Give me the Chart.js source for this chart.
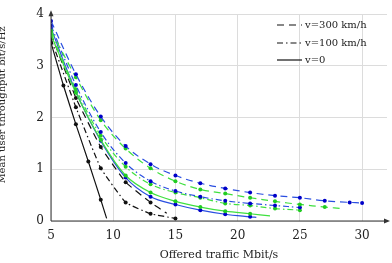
<!DOCTYPE html>
<html>
<head>
<meta charset="utf-8">
<script src="https://cdn.jsdelivr.net/npm/chart.js@4/dist/chart.umd.min.js"></script>
<style>
  body { margin: 0; background: #fff; }
  #wrap { width: 392px; height: 263px; position: relative; }
</style>
</head>
<body>
<div id="wrap"><canvas id="chart"></canvas></div>
<script>
// x ticks / labels
const xTicks = [5, 10, 15, 20, 25, 30];
const yTicks = [0, 1, 2, 3, 4];
const xTitle = 'Offered traffic Mbit/s';
const yTitle = 'Mean user throughput bit/s/Hz';

// black curves
const blackSolidX = [5, 6, 7, 8, 9, 9.47];
const blackSolidY = [3.45, 2.62, 1.87, 1.15, 0.41, 0.05];
const blackDotX = [5, 7, 9, 11, 13, 15];
const blackDotY = [3.52, 2.2, 1.02, 0.36, 0.14, 0.05];
const blackDashX = [5, 7, 9, 11, 13, 14.3];
const blackDashY = [3.62, 2.38, 1.43, 0.75, 0.36, 0.15];

// blue curves
const blueDashX = [5, 7, 9, 11, 13, 15, 17, 19, 21, 23, 25, 27, 29, 30];
const blueDashY = [3.87, 2.84, 2.02, 1.45, 1.10, 0.88, 0.73, 0.63, 0.55, 0.49, 0.45, 0.39, 0.36, 0.35];
const blueDotX = [5, 7, 9, 11, 13, 15, 17, 19, 21, 23, 25];
const blueDotY = [3.78, 2.63, 1.72, 1.12, 0.77, 0.58, 0.47, 0.39, 0.34, 0.30, 0.26];
const blueSolidX = [5, 7, 9, 11, 13, 15, 17, 19, 21, 21.5];
const blueSolidY = [3.73, 2.5, 1.55, 0.84, 0.47, 0.32, 0.21, 0.13, 0.08, 0.07];

// green curves
const greenDashX = [5, 7, 9, 11, 13, 15, 17, 19, 21, 23, 25, 27, 28.5];
const greenDashY = [3.68, 2.78, 1.95, 1.40, 1.02, 0.77, 0.61, 0.53, 0.45, 0.38, 0.32, 0.27, 0.24];
const greenDotX = [5, 7, 9, 11, 13, 15, 17, 19, 21, 23, 25];
const greenDotY = [3.63, 2.55, 1.65, 1.05, 0.71, 0.55, 0.45, 0.34, 0.30, 0.24, 0.21];
const greenSolidX = [5, 7, 9, 11, 13, 15, 17, 19, 21, 22.6];
const greenSolidY = [3.6, 2.48, 1.57, 0.88, 0.55, 0.38, 0.27, 0.19, 0.14, 0.10];

const legendLabels = ['v=300 km/h', 'v=100 km/h', 'v=0'];

const DASH = [7, 5];
const DASHDOT = [6, 3, 1.5, 3];
const BLUE = '#2a4ee0';
const GREEN = '#3fe03f';
const BLACK = '#111';

function pts(xs, ys) {
    return xs.map((x, i) => ({ x: x, y: ys[i] }));
}

function series(label, xs, ys, color, dash, markColor) {
    return {
        label: label,
        data: pts(xs, ys),
        borderColor: color,
        backgroundColor: markColor,
        borderDash: dash,
        borderWidth: 1.2,
        tension: 0.35,
        pointRadius: ctx => Number.isInteger(ctx.raw ? ctx.raw.x : 0) ? 2 : 0,
        pointBorderWidth: 0,
        pointBackgroundColor: markColor,
        fill: false
    };
}

const datasets = [
    series('b300', blueDashX, blueDashY, BLUE, DASH, '#0000c8'),
    series('g300', greenDashX, greenDashY, GREEN, DASH, '#22cc22'),
    series('b100', blueDotX, blueDotY, BLUE, DASHDOT, '#0000c8'),
    series('g100', greenDotX, greenDotY, GREEN, DASHDOT, '#22cc22'),
    series('g0', greenSolidX, greenSolidY, GREEN, [], '#22cc22'),
    series('b0', blueSolidX, blueSolidY, BLUE, [], '#0000c8'),
    series('k300', blackDashX, blackDashY, BLACK, DASH, BLACK),
    series('k100', blackDotX, blackDotY, BLACK, DASHDOT, BLACK),
    series('k0', blackSolidX, blackSolidY, BLACK, [], BLACK)
];
datasets.forEach(d => { if (d.borderColor === BLACK) d.tension = 0.1; });

// axes arrows, titles and legend
const extras = {
    id: 'extras',
    afterDatasetsDraw(chart) {
        const c = chart.ctx;
        const a = chart.chartArea;
        const x0 = chart.scales.x.getPixelForValue(5);
        const y0 = chart.scales.y.getPixelForValue(0);
        c.save();
        c.strokeStyle = '#333';
        c.fillStyle = '#333';
        c.lineWidth = 1;
        c.beginPath();
        c.moveTo(x0, y0); c.lineTo(a.right, y0);
        c.moveTo(x0, y0); c.lineTo(x0, a.top - 1);
        c.stroke();
        c.beginPath();
        c.moveTo(a.right + 3, y0); c.lineTo(a.right - 3, y0 - 2.5); c.lineTo(a.right - 3, y0 + 2.5);
        c.closePath(); c.fill();
        c.beginPath();
        c.moveTo(x0, a.top - 4); c.lineTo(x0 - 2.5, a.top + 2); c.lineTo(x0 + 2.5, a.top + 2);
        c.closePath(); c.fill();

        c.fillStyle = '#222';
        c.font = '11px "DejaVu Serif"';
        c.textAlign = 'center';
        c.textBaseline = 'alphabetic';
        c.fillText(xTitle, (a.left + a.right) / 2, 258);
        c.save();
        c.translate(5, 105);
        c.rotate(-Math.PI / 2);
        c.font = '10px "DejaVu Serif"';
        c.fillText(yTitle, 0, 0);
        c.restore();

        // legend
        const dashes = [DASH, DASHDOT, []];
        const ys = [25, 43, 60];
        c.font = '10px "DejaVu Serif"';
        c.textAlign = 'left';
        c.textBaseline = 'middle';
        legendLabels.forEach((t, i) => {
            c.strokeStyle = BLACK;
            c.lineWidth = 1.2;
            c.setLineDash(dashes[i]);
            c.beginPath();
            c.moveTo(277, ys[i]); c.lineTo(302, ys[i]);
            c.stroke();
            c.setLineDash([]);
            c.fillStyle = '#222';
            c.fillText(t, 305, ys[i]);
        });
        c.restore();
    }
};

new Chart(document.getElementById('chart'), {
    type: 'line',
    data: { datasets: datasets },
    plugins: [extras],
    options: {
        responsive: true,
        maintainAspectRatio: false,
        animation: false,
        layout: { padding: { left: 0, right: 5, top: 8, bottom: 0 } },
        plugins: { legend: { display: false }, tooltip: { enabled: false } },
        scales: {
            x: {
                type: 'linear',
                min: 5,
                max: 32,
                afterBuildTicks: s => { s.ticks = xTicks.map(v => ({ value: v })); },
                afterFit: s => { s.height = 42; },
                border: { display: false },
                grid: { color: '#dcdcdc', drawTicks: false },
                ticks: { padding: 8, color: '#222', font: { family: 'DejaVu Serif', size: 12 } }
            },
            y: {
                min: 0,
                max: 4,
                afterBuildTicks: s => { s.ticks = yTicks.map(v => ({ value: v })); },
                afterFit: s => { s.width = 51; },
                border: { display: false },
                grid: { color: '#dcdcdc', drawTicks: false },
                ticks: { padding: 7, color: '#222', font: { family: 'DejaVu Serif', size: 12 } }
            }
        }
    }
});
</script>
</body>
</html>
